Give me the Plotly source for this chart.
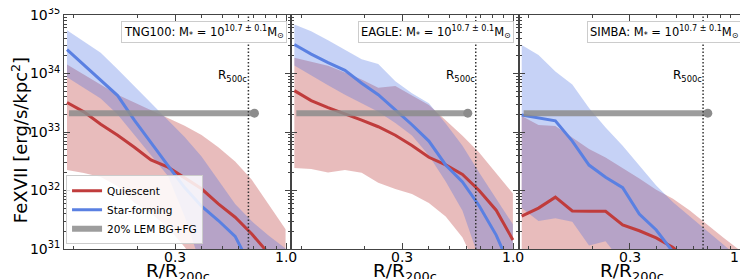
import math
import plotly.graph_objects as go
from plotly.subplots import make_subplots

# ---------------- data ----------------
r_bins = [0.093, 0.1116, 0.134, 0.161, 0.193, 0.231, 0.278, 0.333, 0.40, 0.48, 0.576, 0.69, 0.83, 0.995]

sims = ["TNG100", "EAGLE", "SIMBA"]

# TNG100
tng_q_med = [3.19e33, 2.21e33, 1.36e33, 8.8e32, 5.5e32, 3.33e32, 2.51e32, 1.66e32, 1.07e32, 5.9e31, 3.49e31, 1.8e31, 8.1e30, 3.9e30]
tng_q_hi = [1.43e34, 9.6e33, 6.5e33, 4.35e33, 3.2e33, 2.36e33, 1.75e33, 1.28e33, 8.9e32, 5.5e32, 3.12e32, 1.52e32, 5.7e31, 2.18e31]
tng_q_lo = [2.25e32, 2.0e32, 1.7e32, 1.18e32, 6.2e31, 4.1e31, 2.32e31, 1.08e31, 4.4e30, 2.5e30, 1.6e30, 1.1e30, 8e29, 6e29]
tng_sf_med = [2.57e34, 1.4e34, 7.7e33, 4.2e33, 1.6e33, 6.5e32, 2.67e32, 1.12e32, 5.4e31, 3.07e31, 1.64e31, 4.6e30, 2.2e30, 1.2e30]
tng_sf_hi = [5.5e34, 3.5e34, 2.27e34, 1.18e34, 6.1e33, 3.1e33, 1.6e33, 8.2e32, 3.83e32, 1.49e32, 5.9e31, 2.97e31, 1.68e31, 1.02e31]
tng_sf_lo = [8.6e33, 5.6e33, 3.75e33, 2.0e33, 9.0e32, 3.92e32, 1.77e32, 3.6e31, 4.9e30, 2.5e30, 1.5e30, 1e30, 8e29, 6e29]

# EAGLE
eagle_q_med = [5.1e33, 3.44e33, 2.61e33, 2.05e33, 1.6e33, 1.23e33, 8.8e32, 5.9e32, 3.7e32, 2.74e32, 1.88e32, 1.0e32, 4.6e31, 1.43e31]
eagle_q_hi = [1.85e34, 1.6e34, 1.36e34, 1.04e34, 7.9e33, 5.7e33, 6.1e33, 4.2e33, 2.9e33, 1.59e33, 8.6e32, 4.45e32, 1.97e32, 8.9e31]
eagle_q_lo = [2.43e32, 2.33e32, 2.03e32, 2.24e32, 2.01e32, 1.35e32, 1.06e32, 8.7e31, 6.1e31, 3.6e31, 1.57e31, 3.9e30, 2e30, 1.2e30]
eagle_sf_med = [3.13e34, 2.15e34, 1.54e34, 1.13e34, 6.8e33, 4.35e33, 2.4e33, 1.33e33, 7.0e32, 2.73e32, 1.4e32, 5.5e31, 1.73e31, 3.9e30]
eagle_sf_hi = [6.9e34, 5.3e34, 3.7e34, 2.55e34, 1.76e34, 1.45e34, 7.4e33, 4.6e33, 3.1e33, 1.4e33, 5.8e32, 2.03e32, 7.1e31, 2.64e31]
eagle_sf_lo = [1.37e34, 9.2e33, 6.3e33, 4.35e33, 3.13e33, 2.22e33, 1.43e33, 8.7e32, 3.96e32, 1.43e32, 4.5e31, 6.8e30, 2.5e30, 1.3e30]

# SIMBA
simba_q_med = [3.66e31, 5.0e31, 7.7e31, 4.47e31, 4.4e31, 4.4e31, 2.57e31, 2.05e31, 1.55e31, 1.06e31, 6e30, 4e30, 3e30, 2e30]
simba_q_hi = [1.88e33, 1.32e33, 1.27e33, 8.1e32, 5.1e32, 3.68e32, 2.45e32, 1.6e32, 1.03e32, 7.2e31, 4.55e31, 2.64e31, 1.55e31, 9.4e30]
simba_q_lo = [7e30, 6e30, 5e30, 5e30, 4e30, 4e30, 3e30, 3e30, 2.5e30, 2e30, 1.5e30, 1.2e30, 1e30, 8e29]
simba_sf_med = [1.95e33, 1.75e33, 1.55e33, 7.0e32, 2.72e32, 1.68e32, 1.12e32, 3.96e31, 2.11e31, 8.9e30, 4e30, 2.5e30, 1.6e30, 1.1e30]
simba_sf_hi = [3.07e34, 2.07e34, 1.08e34, 6.5e33, 2.58e33, 1.19e33, 5.8e32, 2.66e32, 1.22e32, 6.3e31, 3.57e31, 2.06e31, 1.18e31, 6.8e30]
simba_sf_lo = [5.0e31, 3.0e31, 3.36e31, 2.93e31, 1.15e31, 1.35e31, 5.8e30, 3e30, 2e30, 1.5e30, 1.2e30, 1e30, 8e29, 6e29]

# background level (20% LEM BG+FG) and its radial extent
lem_level = 2.1e33
lem_r_start = 0.095
lem_r_end = [0.71, 0.61, 0.70]

r500_over_r200 = 0.665

x_tickvals = [0.3, 1.0]
x_ticktext = ["0.3", "1.0"]
x_minor = [0.1, 0.2, 0.4, 0.5, 0.6, 0.7, 0.8, 0.9]
y_tickvals = [1e31, 1e32, 1e33, 1e34, 1e35]
y_ticktext = ["10<sup>31</sup>", "10<sup>32</sup>", "10<sup>33</sup>", "10<sup>34</sup>", "10<sup>35</sup>"]
y_minor = [float(m) * 10.0 ** e for e in range(31, 35) for m in range(2, 10)]

panel_data = [
    (tng_q_med, tng_q_lo, tng_q_hi, tng_sf_med, tng_sf_lo, tng_sf_hi),
    (eagle_q_med, eagle_q_lo, eagle_q_hi, eagle_sf_med, eagle_sf_lo, eagle_sf_hi),
    (simba_q_med, simba_q_lo, simba_q_hi, simba_sf_med, simba_sf_lo, simba_sf_hi),
]

# ---------------- style ----------------
FONT = "DejaVu Sans"
RED_LINE = "#c03c3c"
RED_FILL = "rgba(178,34,34,0.30)"
BLUE_LINE = "#5a80e2"
BLUE_FILL = "rgba(65,105,225,0.30)"
GRAY = "rgba(140,140,140,0.85)"
AXC = "#444444"

fig = make_subplots(rows=1, cols=3, shared_yaxes=True, horizontal_spacing=0)

for i, (q_med, q_lo, q_hi, sf_med, sf_lo, sf_hi) in enumerate(panel_data):
    col = i + 1
    first = i == 0
    # quiescent band
    fig.add_trace(go.Scatter(x=r_bins, y=q_lo, mode="lines", line=dict(width=0),
                             showlegend=False, hoverinfo="skip"), row=1, col=col)
    fig.add_trace(go.Scatter(x=r_bins, y=q_hi, mode="lines", line=dict(width=0),
                             fill="tonexty", fillcolor=RED_FILL,
                             showlegend=False, hoverinfo="skip"), row=1, col=col)
    # star-forming band
    fig.add_trace(go.Scatter(x=r_bins, y=sf_lo, mode="lines", line=dict(width=0),
                             showlegend=False, hoverinfo="skip"), row=1, col=col)
    fig.add_trace(go.Scatter(x=r_bins, y=sf_hi, mode="lines", line=dict(width=0),
                             fill="tonexty", fillcolor=BLUE_FILL,
                             showlegend=False, hoverinfo="skip"), row=1, col=col)
    # medians
    fig.add_trace(go.Scatter(x=r_bins, y=q_med, mode="lines", name="Quiescent",
                             line=dict(color=RED_LINE, width=3), showlegend=first), row=1, col=col)
    fig.add_trace(go.Scatter(x=r_bins, y=sf_med, mode="lines", name="Star-forming",
                             line=dict(color=BLUE_LINE, width=3), showlegend=first), row=1, col=col)
    # LEM background level
    fig.add_trace(go.Scatter(x=[lem_r_start, lem_r_end[i]], y=[lem_level, lem_level], mode="lines",
                             name="20% LEM BG+FG", line=dict(color=GRAY, width=6),
                             showlegend=first), row=1, col=col)
    fig.add_trace(go.Scatter(x=[lem_r_end[i]], y=[lem_level], mode="markers",
                             marker=dict(color="#8c8c8c", size=9), showlegend=False,
                             hoverinfo="skip"), row=1, col=col)
    # R500c marker
    fig.add_trace(go.Scatter(x=[r500_over_r200, r500_over_r200], y=[1e31, 1e35], mode="lines",
                             line=dict(color="#333333", width=1.5, dash="1.5px,2px"),
                             showlegend=False, hoverinfo="skip"), row=1, col=col)

    xname = "x" if col == 1 else f"x{col}"
    yname = "y" if col == 1 else f"y{col}"
    fig.add_annotation(text=f"{sims[i]}: M<sub>*</sub> = 10<sup>10.7 ± 0.1</sup>M<sub>⊙</sub>",
                       xref=f"{xname} domain", yref=f"{yname} domain", x=0.981, y=0.974,
                       xanchor="right", yanchor="top", showarrow=False,
                       font=dict(family=FONT, size=11.5, color="black"),
                       bgcolor="white", bordercolor="#cccccc", borderwidth=1, borderpad=2)
    fig.add_annotation(text="R<sub>500c</sub>", xref=xname, yref=yname,
                       x=math.log10(r500_over_r200), y=33.96,
                       xanchor="right", yanchor="middle", xshift=1, showarrow=False,
                       font=dict(family=FONT, size=12, color="black"))
    fig.add_annotation(text="R/R<sub>200c</sub>", xref=f"{xname} domain", yref="paper",
                       x=0.5, y=-0.1, xanchor="center", yanchor="middle", showarrow=False,
                       borderpad=0, font=dict(family=FONT, size=18.5, color="black"))
    # x tick labels placed on the axis scale
    for tv, tt in zip(x_tickvals, x_ticktext):
        fig.add_annotation(text=tt, xref=xname, yref="paper", x=math.log10(tv), y=-0.033,
                           xanchor="center", yanchor="middle", showarrow=False, borderpad=0,
                           font=dict(family=FONT, size=14, color="black"))

    fig.update_xaxes(type="log", range=[-1.0458, 0.025], tickmode="array", automargin=False,
                     tickvals=x_tickvals, ticktext=x_ticktext, ticks="inside", ticklen=6,
                     tickcolor=AXC, showline=True, linecolor=AXC, linewidth=1, mirror="allticks",
                     showgrid=False, zeroline=False, showticklabels=False,
                     minor=dict(tickmode="array", tickvals=x_minor, ticks="inside", ticklen=3,
                                tickcolor=AXC, showgrid=False),
                     row=1, col=col)
    fig.update_yaxes(type="log", range=[30.9999, 35.0001], tickmode="array", automargin=False,
                     tickvals=y_tickvals, ticktext=y_ticktext, ticks="inside", ticklen=6,
                     tickcolor=AXC, showline=True, linecolor=AXC, linewidth=1, mirror="allticks",
                     showgrid=False, zeroline=False, showticklabels=first,
                     ticklabeloverflow="allow",
                     tickfont=dict(family=FONT, size=14, color="black"),
                     minor=dict(tickmode="array", tickvals=y_minor, ticks="inside", ticklen=3,
                                tickcolor=AXC, showgrid=False),
                     row=1, col=col)

fig.add_annotation(text="FeXVII [erg/s/kpc<sup>2</sup>]", xref="paper", yref="paper",
                   x=-0.0645, y=0.465, xanchor="center", yanchor="middle", textangle=-90,
                   showarrow=False, font=dict(family=FONT, size=18, color="black"))

fig.update_layout(
    width=748, height=279,
    margin=dict(l=56, r=10, t=7, b=38, autoexpand=False),
    paper_bgcolor="white", plot_bgcolor="white",
    font=dict(family=FONT, color="black"),
    legend=dict(x=0.003, y=0.02, xanchor="left", yanchor="bottom", traceorder="normal",
                bgcolor="rgba(255,255,255,0.85)", bordercolor="#cccccc", borderwidth=1,
                font=dict(family=FONT, size=10.5, color="black"), itemwidth=30,
                tracegroupgap=0),
    showlegend=True,
)

fig.write_html("out.html")
